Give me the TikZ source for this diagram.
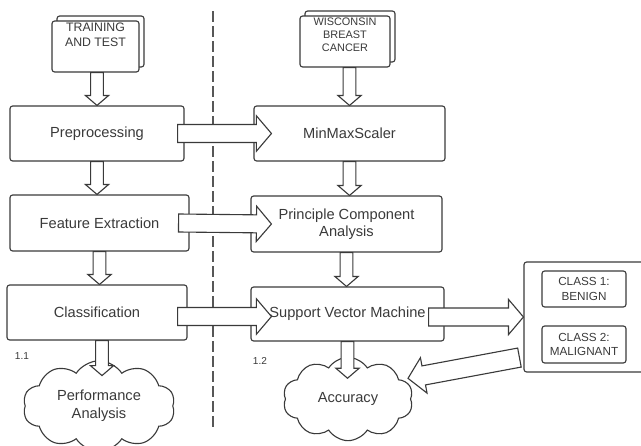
\documentclass[tikz,border=0pt]{standalone}
\usepackage{fontspec}
\setmainfont{Liberation Sans}
\usetikzlibrary{calc,shapes.symbols,shadows}
\definecolor{ink}{HTML}{3A3A3A}

\tikzset{
  fatshaft/.store in=\fatshaft, fathead/.store in=\fathead, fatlen/.store in=\fatlen,
  fat/.style={draw=ink, fill=white, to path={
    ($(\tikztotarget)!\fatlen!(\tikztostart)$) coordinate (fa)
    ($(\tikztostart)!\fatshaft!90:(\tikztotarget)$)
    -- ($(fa)!\fatshaft!90:(\tikztotarget)$)
    -- ($(fa)!\fathead!90:(\tikztotarget)$)
    -- (\tikztotarget)
    -- ($(fa)!\fathead!-90:(\tikztotarget)$)
    -- ($(fa)!\fatshaft!-90:(\tikztotarget)$)
    -- ($(\tikztostart)!\fatshaft!-90:(\tikztotarget)$)
    -- cycle}},
  vfat/.style={fat, fatshaft=0.19cm, fathead=0.35cm, fatlen=0.3cm},
  hfat/.style={fat, fatshaft=0.27cm, fathead=0.53cm, fatlen=0.45cm},
  dfat/.style={fat, fatshaft=0.29cm, fathead=0.54cm, fatlen=0.48cm}
}

\begin{document}
\begin{tikzpicture}[x=0.03cm, y=-0.03cm, line width=0.95pt,
    box/.style={draw=ink, rounded corners=0.8mm, minimum height=1.65cm, text=ink, align=center,
      font=\fontsize{12.5}{15}\selectfont},
    doc/.style={draw=ink, fill=white, rounded corners=0.8mm, minimum width=2.61cm, minimum height=1.53cm,
      copy shadow={shadow xshift=1.5mm, shadow yshift=1.5mm}},
    doctext/.style={anchor=north, inner sep=0.7mm, text=ink, align=center, font=\fontsize{10.5}{12.8}\selectfont},
    cbox/.style={draw=ink, rounded corners=0.8mm, minimum width=2.52cm, minimum height=1.08cm, text=ink,
      align=center, font=\fontsize{10}{12.5}\selectfont},
    cloudy/.style={cloud, cloud puffs=10, cloud puff arc=115, aspect=1.8, draw=ink, text=ink, align=center,
      font=\fontsize{12.5}{15}\selectfont},
    tag/.style={text=ink, font=\fontsize{8.6}{10}\selectfont}]
  \useasboundingbox (0,0) rectangle (641,446);

  % dividing line
  \coordinate (sepT) at (213,11);
  \coordinate (sepB) at (213,428);
  \draw[ink!85, line width=0.9pt, dash pattern=on 3.2mm off 1.3mm] (sepT) -- (sepB);

  % data sets
  \node[doc] (train) at (95.5,46.5) {};
  \node[doctext] (traintxt) at (train.north) {TRAINING\\AND TEST};
  \node[doc, minimum width=2.7cm] (wisc) at (345,41.5) {};
  \node[doctext, font=\fontsize{9.3}{11}\selectfont] (wisctxt) at (wisc.north) {WISCONSIN\\BREAST\\CANCER};

  % left column
  \node[box, minimum width=5.22cm] (pre) at (97,133.5) {Preprocessing};
  \node[box, minimum width=5.37cm, minimum height=1.68cm] (feat) at (99.5,223) {Feature Extraction};
  \node[box, minimum width=5.4cm] (clf) at (97,312.5) {Classification};
  \node[cloudy, minimum width=4.56cm, minimum height=2.55cm] (perf) at (99,406) {Performance\\Analysis};
  \node[tag] (t11) at (22,356) {1.1};

  % right column
  \node[box, minimum width=5.73cm] (mms) at (349.5,133.5) {MinMaxScaler};
  \node[box, minimum width=5.73cm, minimum height=1.68cm] (pca) at (346.5,224) {Principle Component\\Analysis};
  \node[box, minimum width=5.79cm, minimum height=1.62cm] (svm) at (347.5,314) {Support Vector Machine};
  \node[cloudy, minimum width=3.9cm, minimum height=2.5cm] (acc) at (348,399) {Accuracy};
  \node[tag] (t12) at (260,361) {1.2};

  % classes
  \node[draw=ink, rounded corners=0.8mm, minimum width=4.08cm, minimum height=3.3cm] (out) at (592,317) {};
  \node[cbox] (c1) at (584,289) {CLASS 1:\\BENIGN};
  \node[cbox, minimum height=1.11cm] (c2) at (584,344.5) {CLASS 2:\\MALIGNANT};

  % vertical flow
  \draw[vfat] (pre.north |- train.south) to (pre.north);
  \draw[vfat] (pre.south) to (pre.south |- feat.north);
  \draw[vfat] (feat.south) to (feat.south |- clf.north);
  \draw[vfat] ([xshift=1.5mm]clf.south) to ([xshift=1.5mm,yshift=-1.05cm]clf.south);
  \draw[vfat] (mms.north |- wisc.south) to (mms.north);
  \draw[vfat] (mms.south) to (mms.south |- pca.north);
  \draw[vfat] (pca.south) to (pca.south |- svm.north);
  \draw[vfat] (svm.south) to ([yshift=-1.1cm]svm.south);

  % across
  \draw[hfat] ([xshift=-2.1mm]pre.east) to ([xshift=5.4mm]mms.west);
  \draw[hfat] ([xshift=-3.3mm]feat.east) to ([xshift=6.3mm]pca.west);
  \draw[hfat] ([xshift=-3mm,yshift=-1.2mm]clf.east) to ([xshift=6.3mm,yshift=-0.75mm]svm.west);
  \draw[hfat] ([xshift=-4.8mm,yshift=-0.9mm]svm.east) to (out.west);
  \draw[dfat] ([shift={(-1.2mm,4.5mm)}]out.south west) to ([shift={(1.8cm,0.62cm)}]acc.center);
\end{tikzpicture}
\end{document}
